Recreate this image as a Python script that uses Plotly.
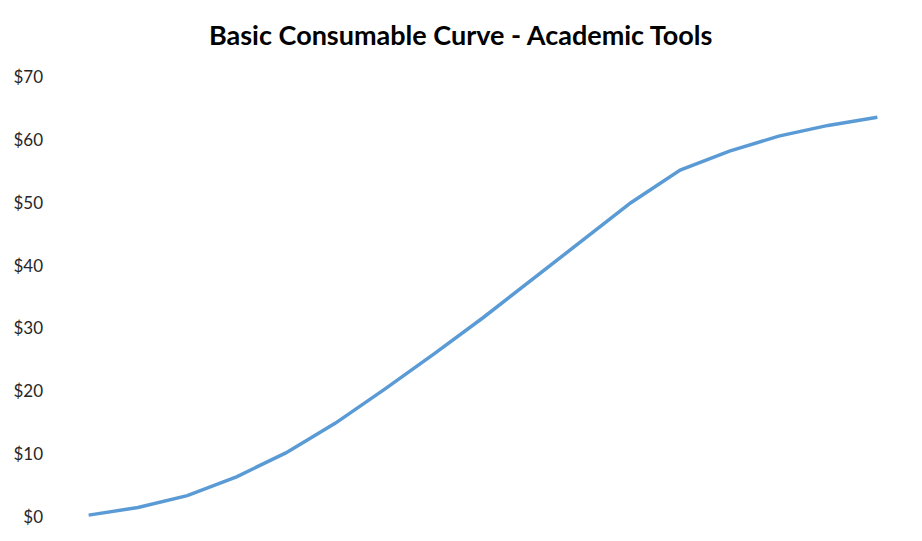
import plotly.graph_objects as go

periods = list(range(1, 18))
values = [0.3, 1.5, 3.4, 6.4, 10.2, 14.9, 20.3, 25.9, 31.7, 37.8, 43.9, 50.0, 55.2, 58.2, 60.6, 62.3, 63.6]
y_ticks = [0, 10, 20, 30, 40, 50, 60, 70]
y_labels = ["$" + str(v) for v in y_ticks]
title_text = "Basic Consumable Curve - Academic Tools"

fig = go.Figure()
fig.add_trace(go.Scatter(
    x=periods, y=values, mode="lines",
    line=dict(color="#5B9BD5", width=3.5),
    hoverinfo="skip",
))

fig.update_layout(
    width=922, height=541,
    paper_bgcolor="white", plot_bgcolor="white",
    margin=dict(l=56, r=28, t=69, b=32),
    showlegend=False,
    title=dict(text="<b>" + title_text + "</b>", x=0.491, xanchor="center",
               y=0.95, yanchor="middle",
               font=dict(family="Lato, Noto Sans, sans-serif", size=27, color="black")),
    font=dict(family="Lato, Noto Sans, sans-serif"),
)
fig.update_xaxes(range=[0.5, 17.5], showticklabels=False, showgrid=False,
                 zeroline=False, showline=False, ticks="", automargin=False)
fig.update_yaxes(range=[0, 70], tickvals=y_ticks, ticktext=y_labels,
                 showgrid=False, zeroline=False, showline=False, ticks="",
                 ticklabelstandoff=20, automargin=False,
                 tickfont=dict(family="Lato, Noto Sans, sans-serif", size=17, color="#262626"))

fig.write_html("out.html")
